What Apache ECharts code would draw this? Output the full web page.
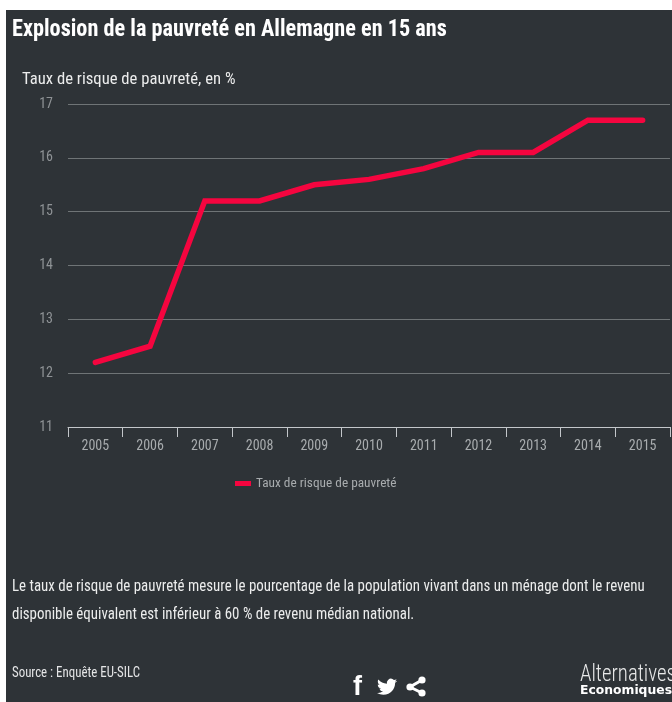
<!DOCTYPE html>
<html>
<head>
<meta charset="utf-8">
<style>html,body{margin:0;padding:0;background:#fff}#chart{width:672px;height:702px}</style>
<script src="https://cdn.jsdelivr.net/npm/echarts@6/dist/echarts.min.js"></script>
</head>
<body>
<div id="chart"></div>
<script>
const years = ['2005','2006','2007','2008','2009','2010','2011','2012','2013','2014','2015'];
const povertyRate = [12.2,12.5,15.2,15.2,15.5,15.6,15.8,16.1,16.1,16.7,16.7];
const seriesName = 'Taux de risque de pauvreté';
const heading = 'Explosion de la pauvreté en Allemagne en 15 ans';
const unitNote = 'Taux de risque de pauvreté, en %';
const noteLines = [
  'Le taux de risque de pauvreté mesure le pourcentage de la population vivant dans un ménage dont le revenu',
  'disponible équivalent est inférieur à 60 % de revenu médian national.'
];
const sourceText = 'Source : Enquête EU-SILC';

const narrow = '"Roboto Condensed",Roboto,sans-serif';
const panel = '#2e3337';
const birdPath = 'M23.95 4.57 a10 10 0 0 1 -2.82 .77 a4.96 4.96 0 0 0 2.16 -2.72 c-.95 .55 -2 .96 -3.12 1.19 a4.92 4.92 0 0 0 -8.38 4.48 C7.69 8.09 4.07 6.13 1.64 3.16 a4.82 4.82 0 0 0 -.67 2.48 c0 1.71 .87 3.2 2.19 4.1 a4.9 4.9 0 0 1 -2.23 -.61 v.06 a4.92 4.92 0 0 0 3.95 4.83 a4.9 4.9 0 0 1 -2.22 .08 a4.93 4.93 0 0 0 4.6 3.42 A9.87 9.87 0 0 1 0 19.54 a13.94 13.94 0 0 0 7.55 2.21 c9.05 0 14 -7.5 14 -13.99 0 -.21 0 -.42 -.02 -.63 a10 10 0 0 0 2.46 -2.55 z';

// The bird icon is a registered path shape so it can sit in the graphic layer.
echarts.graphic.registerShape('birdIcon', echarts.graphic.extendPath(birdPath, {}));

function textEl(x, y, text, size, weight, fill, font, squeeze) {
  return {
    type:'text', x, y, z:5, scaleX:squeeze||1, originX:0,
    style:{ text, fontSize:size, fontWeight:weight||'normal', fill:fill||'#f2f3f3', fontFamily:font||narrow, textVerticalAlign:'middle' }
  };
}

const chart = echarts.init(document.getElementById('chart'), null, {renderer:'canvas'});
chart.setOption({
  animation:false,
  backgroundColor:'#ffffff',
  grid:{ left:68, right:2, top:104, height:323, containLabel:false },
  legend:{
    left:230, top:472, icon:'rect', itemWidth:16, itemHeight:5, itemGap:6,
    textStyle:{ color:'#a8acae', fontSize:13.3, fontFamily:narrow },
    data:[seriesName]
  },
  xAxis:{
    type:'category', data:years, boundaryGap:true,
    axisLine:{ lineStyle:{ color:'#c3c7ca', width:1 } },
    axisTick:{ show:true, length:10, alignWithLabel:false, lineStyle:{ color:'#c3c7ca', width:1 } },
    axisLabel:{ color:'#a8acae', fontSize:14, fontFamily:narrow, margin:12, interval:0 }
  },
  yAxis:{
    type:'value', min:11, max:17, interval:1,
    axisLine:{show:false}, axisTick:{show:false},
    splitLine:{ lineStyle:{ color:'#6f7476', width:1 } },
    axisLabel:{ color:'#8f9396', fontSize:14, fontFamily:narrow, margin:15, padding:[2,0,0,0] }
  },
  series:[{
    name:seriesName, type:'line', data:povertyRate, symbol:'none', smooth:false,
    lineStyle:{ color:'#f5053f', width:5.5, cap:'round', join:'miter' },
    itemStyle:{ color:'#f5053f' }
  }],
  graphic:[
    { type:'rect', z:-10, shape:{ x:6, y:10, width:666, height:692 }, style:{ fill:panel } },
    textEl(12, 30, heading, 23, 'bold', '#ffffff', narrow, 0.967),
    textEl(22, 80, unitNote, 17, 'normal', '#eceded', narrow, 0.98),
    textEl(12, 587, noteLines[0], 16, 'normal', '#eceded', narrow, 0.932),
    textEl(12, 615, noteLines[1], 16, 'normal', '#eceded', narrow, 0.932),
    textEl(12, 673, sourceText, 14, 'normal', '#e4e5e6', narrow, 0.92),
    textEl(353, 688, 'f', 27, 'bold', '#ffffff', '"Liberation Sans",sans-serif'),
    { type:'birdIcon', z:5, x:377, y:677, scaleX:0.84, scaleY:0.82, style:{ fill:'#ffffff' } },
    { type:'polyline', z:5, shape:{ points:[[422,680],[410,687],[422,693]] }, style:{ stroke:'#ffffff', lineWidth:3, fill:null } },
    { type:'circle', z:5, shape:{ cx:422, cy:680, r:3.6 }, style:{ fill:'#ffffff' } },
    { type:'circle', z:5, shape:{ cx:410, cy:687, r:3.6 }, style:{ fill:'#ffffff' } },
    { type:'circle', z:5, shape:{ cx:422, cy:693, r:3.6 }, style:{ fill:'#ffffff' } },
    textEl(580, 675, 'Alternatives', 24, 300, '#e8e9e9', narrow, 0.87),
    textEl(580, 691, 'Economiques', 13, 'bold', '#ffffff', '"DejaVu Sans",sans-serif', 0.95)
  ]
});
</script>
</body>
</html>
